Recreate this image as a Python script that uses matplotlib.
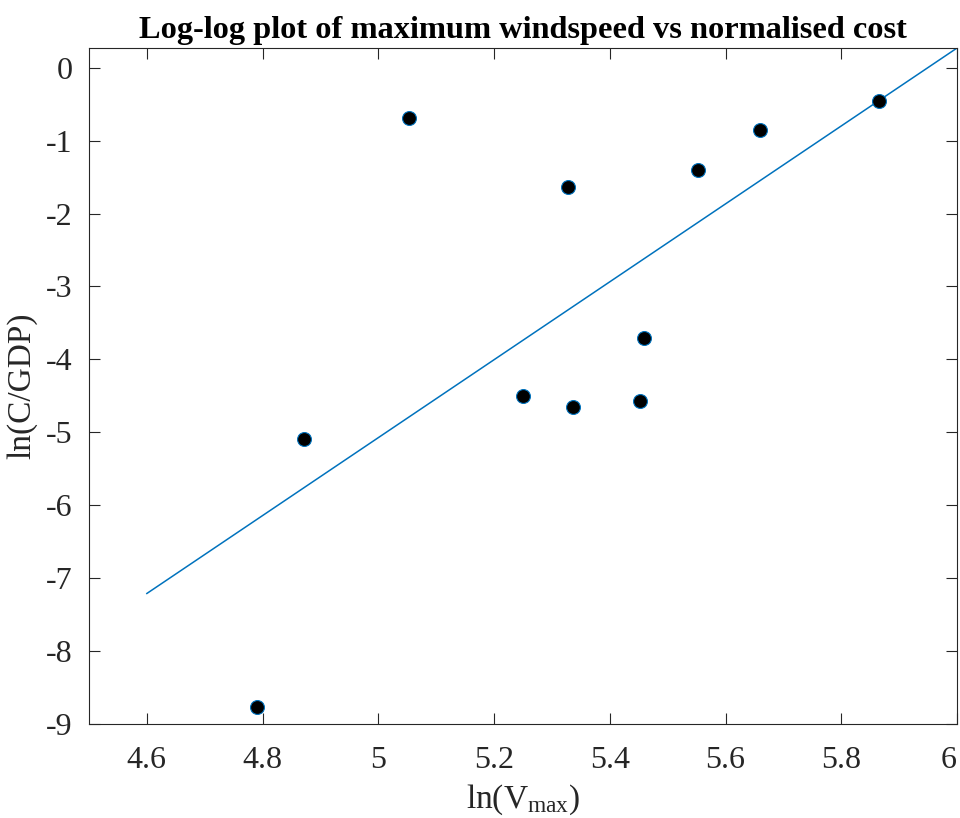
import matplotlib
matplotlib.use("Agg")
import matplotlib.pyplot as plt

plt.rcParams["font.family"] = ["Liberation Serif", "DejaVu Serif"]
plt.rcParams["mathtext.fontset"] = "custom"
plt.rcParams["mathtext.rm"] = "Liberation Serif"
plt.rcParams["mathtext.it"] = "Liberation Serif:italic"

# observed points: ln(max windspeed) vs ln(cost / GDP)
ln_vmax = [4.790, 4.871, 5.053, 5.250, 5.328, 5.336, 5.452, 5.459, 5.552, 5.660, 5.865]
ln_cost = [-8.77, -5.09, -0.69, -4.50, -1.63, -4.65, -4.57, -3.70, -1.40, -0.85, -0.45]

# fitted line end points
fit_x = [4.6, 6.0]
fit_y = [-7.21, 0.27]

x_ticks = [4.6, 4.8, 5.0, 5.2, 5.4, 5.6, 5.8, 6.0]
x_labels = ["4.6", "4.8", "5", "5.2", "5.4", "5.6", "5.8", "6"]
y_ticks = list(range(-9, 1))

blue = "#0072BD"
dark = "#262626"

fig = plt.figure(figsize=(9.6, 8.18), dpi=100)
ax = fig.add_axes([0.0927, 0.1149, 0.9042, 0.8264])

ax.plot(fit_x, fit_y, color=blue, linewidth=1.1)
ax.plot(ln_vmax, ln_cost, linestyle="none", marker="o", markersize=10,
        markerfacecolor="black", markeredgecolor=blue, markeredgewidth=0.8)

ax.set_xlim(4.5, 6.0)
ax.set_ylim(-9, 0.27)
ax.set_xticks(x_ticks)
ax.set_xticklabels(x_labels)
ax.set_yticks(y_ticks)
ax.set_yticklabels([str(v) for v in y_ticks])
# last x label sits inside the figure edge, as in the original
ax.get_xticklabels()[-1].set_horizontalalignment("right")

ax.tick_params(direction="in", length=8, width=0.8, colors=dark,
               labelsize=23, top=True, right=True)
ax.tick_params(axis="x", pad=16)
ax.tick_params(axis="y", pad=12)
for s in ax.spines.values():
    s.set_color(dark)
    s.set_linewidth(0.8)

ax.set_xlabel(r"ln(V$_{\mathregular{max}}$)", fontsize=24, color=dark, labelpad=5)
ax.set_ylabel("ln(C/GDP)", fontsize=24, color=dark, labelpad=6)
ax.set_title("Log-log plot of maximum windspeed vs normalised cost",
             fontsize=23.3, fontweight="bold", color="black", pad=7)

fig.savefig("out.png", dpi=100)
